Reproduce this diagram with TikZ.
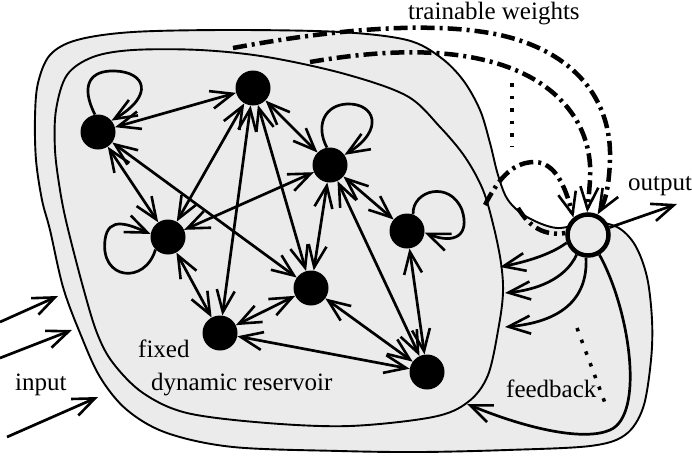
\documentclass[tikz,border=0pt]{standalone}
\usepackage{fontspec}
\setmainfont{Liberation Serif}
\usetikzlibrary{arrows.meta}
\definecolor{blob}{RGB}{235,235,235}
\begin{document}
\begin{tikzpicture}[x=1pt,y=-1pt,
  >={Straight Barb[length=22pt,width=18pt,line width=2.6pt]},
  neuron/.style={circle,fill=black,minimum size=35pt,inner sep=0pt},
  outneuron/.style={circle,draw=black,line width=4.5pt,fill=blob,minimum size=41pt,inner sep=0pt},
  conn/.style={line width=2.7pt},
  boundary/.style={line width=1.9pt,fill=blob},
  weight/.style={line width=4.5pt,dash pattern=on 14pt off 5pt on 3pt off 5pt},
  dots/.style={line width=3.5pt,dash pattern=on 3.5pt off 9pt},
  lbl/.style={font=\rmfamily\fontsize{25}{30}\selectfont,inner sep=0pt,anchor=base west},
]
\useasboundingbox (0,0) rectangle (692,458);

% outer blob
\draw[boundary] plot[smooth cycle,tension=0.55] coordinates {
 (133,32) (233,30) (340,32) (407,40) (440,57) (463,80) (480,110) (490,143)
 (498,175) (508,200) (527,217) (557,228) (590,222) (617,227) (635,245)
 (647,277) (652,320) (651,360) (643,408) (625,435) (590,446) (507,450)
 (420,452) (340,451) (233,447) (167,433) (127,410) (100,377) (80,333)
 (63,287) (50,230) (42,200) (36,160) (35,117) (38,83) (50,55) (77,40)};

% inner blob (reservoir)
\draw[boundary] plot[smooth cycle,tension=0.55] coordinates {
 (133,50) (200,50) (267,57) (345,74) (407,96) (440,127) (465,157) (483,190)
 (494,228) (501,263) (503,292) (499,325) (488,375) (468,402) (433,417)
 (350,426) (267,423) (187,413) (143,393) (113,363) (97,333) (83,287)
 (67,225) (60,190) (55,150) (56,110) (67,75) (93,57)};

% nodes
\node[neuron] (A) at (98,132) {};
\node[neuron] (B) at (253,88) {};
\node[neuron] (C) at (330,165) {};
\node[neuron] (D) at (168,237) {};
\node[neuron] (E) at (407,231) {};
\node[neuron] (F) at (311,288) {};
\node[neuron] (G) at (220,333) {};
\node[neuron] (H) at (427,372) {};
\node[outneuron] (O) at (588,235) {};

% reservoir connections
\foreach \a/\b in {A/B, A/D, A/F, B/C, B/D, B/G, B/F, C/D, C/F, C/H, C/E, D/G, F/G, F/H, G/H, E/H}
  \draw[conn,<->] (\a) -- (\b);

% self loops
\draw[conn,->] (A.100) .. controls (80,85) and (90,70) .. (115,71) .. controls (145,72) and (155,95) .. (A.40);
\draw[conn,->] (C.100) .. controls (315,125) and (325,105) .. (347,104) .. controls (375,103) and (385,130) .. (C.35);
\draw[conn,->] (E.70) .. controls (412,190) and (450,180) .. (462,210) .. controls (470,235) and (455,245) .. (E.355);
\draw[conn,->] (D.225) .. controls (145,285) and (100,280) .. (105,240) .. controls (108,215) and (130,225) .. (D.170);

% trainable weights
\coordinate (w1) at (233,48);
\coordinate (w2) at (310,62);
\coordinate (w3) at (485,205);
\coordinate (w4) at (518,208);
\draw[weight,->] (w1) .. controls (330,30) and (430,20) .. (500,35) .. controls (575,52) and (612,100) .. (610,160) .. controls (609,185) and (606,200) .. (O.65);
\draw[weight,->] (w2) .. controls (380,50) and (460,45) .. (520,72) .. controls (570,95) and (593,135) .. (590,180) .. controls (589,195) and (588,203) .. (O.92);
\draw[weight,->] (w3) .. controls (500,175) and (515,162) .. (535,162) .. controls (555,163) and (565,185) .. (O.130);
\draw[weight] (w4) .. controls (530,228) and (545,236) .. (O.175);
\draw[dots] (512,83) -- (512,146);

% input
\coordinate (i1s) at (0,322); \coordinate (i1e) at (58,296);
\coordinate (i2s) at (0,358); \coordinate (i2e) at (72,330);
\coordinate (i3s) at (7,437); \coordinate (i3e) at (98,397);
\draw[conn,->] (i1s) -- (i1e);
\draw[conn,->] (i2s) -- (i2e);
\draw[conn,->] (i3s) -- (i3e);

% output
\coordinate (oe) at (677,204);
\draw[conn,->] (O) -- (oe);

% feedback
\coordinate (f1) at (500,267);
\coordinate (f2) at (505,293);
\coordinate (f3) at (505,327);
\coordinate (f4) at (467,404);
\draw[conn,->] (O.200) .. controls (550,255) and (525,262) .. (f1);
\draw[conn,->] (O.240) .. controls (565,280) and (535,290) .. (f2);
\draw[conn,->] (O.265) .. controls (588,300) and (560,322) .. (f3);
\draw[conn,->] (O.300) .. controls (630,310) and (645,415) .. (610,430) .. controls (585,441) and (530,430) .. (f4);
\draw[dots] (577,328) -- (605,403);

% labels
\node[lbl] (tw) at (408,19) {trainable weights};
\node[lbl] (out) at (628,190) {output};
\node[lbl] (inp) at (15,390) {input};
\node[lbl] (fx) at (138,357) {fixed};
\node[lbl] (dr) at (151,390) {dynamic reservoir};
\node[lbl] (fb) at (506,397) {feedback};
\end{tikzpicture}
\end{document}
